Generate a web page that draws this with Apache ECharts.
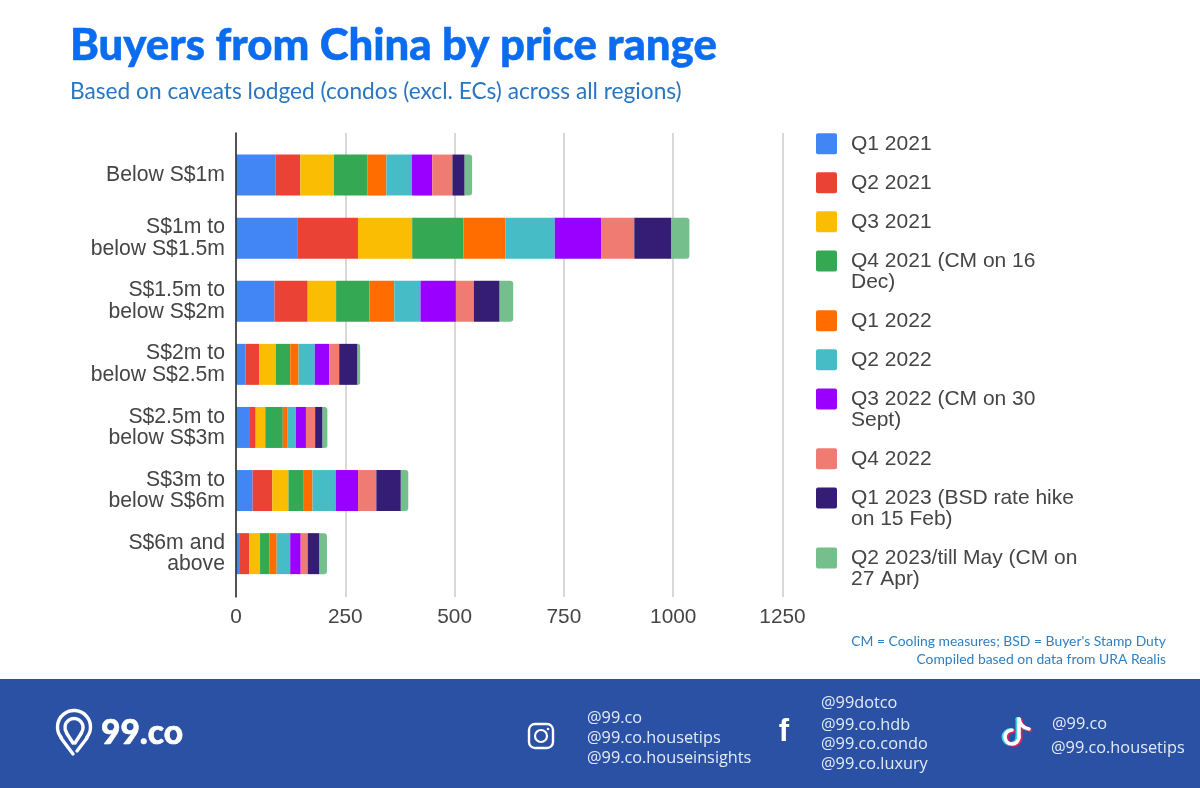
<!DOCTYPE html>
<html>
<head>
<meta charset="utf-8">
<title>Buyers from China by price range</title>
<script src="https://cdn.jsdelivr.net/npm/echarts@6/dist/echarts.min.js"></script>
<style>
html,body{margin:0;padding:0;background:#fff;}
#main{width:1200px;height:788px;}
</style>
</head>
<body>
<div id="main"></div>
<script>
var categories = ['Below S$1m','S$1m to\nbelow S$1.5m','S$1.5m to\nbelow S$2m','S$2m to\nbelow S$2.5m','S$2.5m to\nbelow S$3m','S$3m to\nbelow S$6m','S$6m and\nabove'];
var xTicks = [0,250,500,750,1000,1250];

var q1_2021 = [91,140,88,22,30,38,9];
var q2_2021 = [56,139,76,31,15,45,21];
var q3_2021 = [77,124,65,38,22,37,25];
var q4_2021 = [77,117,76,33,40,35,21];
var q1_2022 = [43,96,57,19,10,20,17];
var q2_2022 = [58,113,60,37,20,53,31];
var q3_2022 = [47,106,81,33,23,51,24];
var q4_2022 = [46,76,41,23,21,42,16];
var q1_2023 = [28,85,59,42,17,56,27];
var q2_2023 = [17,41,31,6,11,17,17];

var seriesValues = [q1_2021,q2_2021,q3_2021,q4_2021,q1_2022,q2_2022,q3_2022,q4_2022,q1_2023,q2_2023];
var seriesNames = ['Q1 2021','Q2 2021','Q3 2021','Q4 2021 (CM on 16\nDec)','Q1 2022','Q2 2022','Q3 2022 (CM on 30\nSept)','Q4 2022','Q1 2023 (BSD rate hike\non 15 Feb)','Q2 2023/till May (CM on\n27 Apr)'];
var seriesColors = ['#4285f4','#ea4335','#fbbc04','#34a853','#ff6d01','#46bdc6','#9900ff','#f07b72','#351c75','#74bf8b'];

var instagramHandles = ['@99.co','@99.co.housetips','@99.co.houseinsights'];
var facebookHandles = ['@99dotco','@99.co.hdb','@99.co.condo','@99.co.luxury'];
var tiktokHandles = ['@99.co','@99.co.housetips'];

var chartFont = '"Liberation Sans", Arial, sans-serif';
var swatch = 'M2 0H19A2 2 0 0 1 21 2V19A2 2 0 0 1 19 21H2A2 2 0 0 1 0 19V2A2 2 0 0 1 2 0Z';

var myChart = echarts.init(document.getElementById('main'), null, {renderer:'canvas'});

// one legend per item, the swatch has to stay on the first line of wrapped names
var legends = [], legendY = 133;
seriesNames.forEach(function(name){
    var lines = name.split('\n').length;
    legends.push({
        left:816, top:legendY, padding:0, orient:'vertical', selectedMode:false,
        itemWidth:21, itemHeight:21*lines, itemGap:0,
        icon:'path://' + swatch + (lines > 1 ? 'M0 42H0.01V42.01H0Z' : ''),
        data:[name],
        textStyle:{fontFamily:chartFont, fontSize:21, color:'#454545', lineHeight:21.5, padding:[0,0,0,9]}
    });
    legendY += lines*21 + 18;
});

var series = seriesNames.map(function(name,i){
    return {
        name:name, type:'bar', stack:'total', barWidth:41,
        xAxisIndex:0, yAxisIndex:0,
        data:seriesValues[i],
        itemStyle:{color:seriesColors[i], borderRadius:i == 9 ? [0,3,3,0] : 0}
    };
});

function text(str,x,y,size,color,font,weight,align,thicken){
    return {type:'text', x:x, y:y, silent:true, style:{
        text:str, fill:color, fontFamily:font, fontSize:size, fontWeight:weight || 'normal',
        textAlign:align || 'left', textVerticalAlign:'middle',
        stroke:thicken ? color : null, lineWidth:thicken || 0
    }};
}
function handles(list,x,ys,xs){
    return list.map(function(h,i){
        return text(h, xs ? xs[i] : x, ys[i], 16.3, '#e4ebf7', '"Open Sans", sans-serif');
    });
}
function deg(d){ return d*Math.PI/180; }
function arc(cx,cy,r,a,b,color,w,cw){
    return {type:'arc', silent:true, shape:{cx:cx,cy:cy,r:r,startAngle:deg(a),endAngle:deg(b),clockwise:cw !== false},
        style:{fill:null,stroke:color,lineWidth:w,lineCap:'round'}};
}
function poly(points,color,w){
    return {type:'polyline', silent:true, shape:{points:points},
        style:{fill:null,stroke:color,lineWidth:w,lineCap:'round',lineJoin:'round'}};
}
// tiktok note, drawn three times for the coloured edges
function tikNote(color,w,dx,dy){
    return [
        arc(1012+dx,737+dy,7,270,0,color,w,false),
        poly([[1019+dx,719+dy],[1019+dx,737+dy]],color,w),
        {type:'bezierCurve', silent:true, shape:{x1:1019+dx,y1:719+dy,x2:1029+dx,y2:729+dy,cpx1:1020+dx,cpy1:725+dy,cpx2:1024+dx,cpy2:728+dy},
            style:{fill:null,stroke:color,lineWidth:w,lineCap:'round'}}
    ];
}

var graphics = [
    {type:'rect', silent:true, shape:{x:0,y:679,width:1200,height:109}, style:{fill:'#2a51a3'}},
    text('Buyers from China by price range',70,46,43.7,'#0b6cf0','Lato, sans-serif','900','left',0.5),
    text('Based on caveats lodged (condos (excl. ECs) across all regions)',70,92,22.7,'#2a76c0','Lato, sans-serif'),
    text("CM = Cooling measures; BSD = Buyer's Stamp Duty",1166,642,13.9,'#2f7fc1','Lato, sans-serif','normal','right'),
    text('Compiled based on data from URA Realis',1166,660,13.9,'#2f7fc1','Lato, sans-serif','normal','right'),
    // 99.co logo
    arc(74,727,16.5,140,400,'#fff',3.4),
    poly([[61,738],[73,754]],'#fff',3.4),
    poly([[87,738],[77,751]],'#fff',3.4),
    arc(74,727.5,9,145,395,'#fff',3.4),
    poly([[66.5,733],[73,743]],'#fff',3.4),
    poly([[81.5,733],[75,743]],'#fff',3.4),
    text('99.co',101,733,33.5,'#fff','Lato, sans-serif','900','left',0.6),
    // instagram
    {type:'rect', silent:true, shape:{x:529,y:724,width:24,height:24,r:6}, style:{fill:null,stroke:'#fff',lineWidth:2.4}},
    {type:'circle', silent:true, shape:{cx:541,cy:736,r:6}, style:{fill:null,stroke:'#fff',lineWidth:2.2}},
    {type:'circle', silent:true, shape:{cx:548,cy:729,r:1.3}, style:{fill:'#fff'}},
    // facebook
    text('f',784,732,31,'#fff','"Liberation Sans", sans-serif','bold','center')
].concat(
    tikNote('#35d6e0',4,-1.5,0),
    tikNote('#e0245e',4,1.5,1),
    tikNote('#fff',3.6,0,0),
    handles(instagramHandles,587,[718,738,758]),
    handles(facebookHandles,821,[703,725,744,764]),
    handles(tiktokHandles,0,[724,748],[1052,1051])
);

var option = {
    animation:false,
    backgroundColor:'#fff',
    legend:legends,
    // grid 0 holds the bars, grid 1 the taller frame with the ruled lines
    grid:[
        {left:236, width:546.5, top:143.5, height:441.7},
        {left:236, width:546.5, top:133, height:464}
    ],
    xAxis:[
        {type:'value', gridIndex:0, min:0, max:1250, interval:250, show:false},
        {type:'value', gridIndex:1, min:0, max:1250, interval:250,
            axisLine:{show:false}, axisTick:{show:false},
            splitLine:{show:true, lineStyle:{color:'#cfcfcf', width:1.6}},
            axisLabel:{
                margin:10, fontFamily:chartFont, fontSize:20.8, color:'#454545',
                showMinLabel:true, showMaxLabel:true,
                formatter:function(v){ return xTicks.indexOf(v) >= 0 ? String(v) : ''; }
            }}
    ],
    yAxis:[
        {type:'category', gridIndex:0, inverse:true, data:categories,
            axisLine:{show:false}, axisTick:{show:false},
            axisLabel:{margin:11, align:'right', fontFamily:chartFont, fontSize:21.2, color:'#454545', lineHeight:21.5, interval:0}},
        {type:'value', gridIndex:1, min:0, max:1, interval:1, z:5,
            axisLine:{show:true, onZero:false, lineStyle:{color:'#333', width:1.6}},
            axisTick:{show:false}, axisLabel:{show:false}, splitLine:{show:false}}
    ],
    series:series,
    graphic:{elements:graphics}
};
myChart.setOption(option);
</script>
</body>
</html>
